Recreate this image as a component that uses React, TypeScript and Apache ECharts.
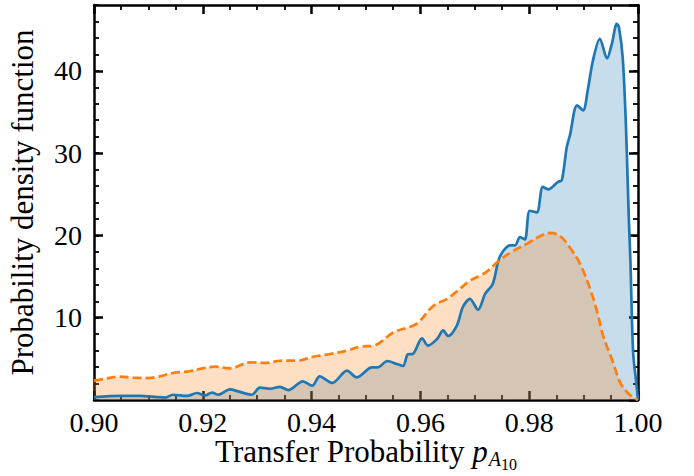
import React, { useEffect, useRef } from "react";
import * as echarts from "echarts";

// Transfer probability grid points and PDF values
const blueX = [
  0.9, 0.9048, 0.9085, 0.9116, 0.9131, 0.9145, 0.9171, 0.9189, 0.9204, 0.9217,
  0.9228, 0.925, 0.9265, 0.929, 0.9305, 0.9324, 0.9342, 0.9357, 0.9384, 0.9401,
  0.9415, 0.9438, 0.9465, 0.9483, 0.9511, 0.9522, 0.9539, 0.9557, 0.9568, 0.9577,
  0.9586, 0.9603, 0.9614, 0.9631, 0.9642, 0.9651, 0.9667, 0.9678, 0.9691, 0.9706,
  0.9719, 0.9733, 0.9746, 0.9765, 0.9774, 0.9783, 0.9792, 0.9801, 0.9814, 0.9825,
  0.9835, 0.9853, 0.986, 0.9869, 0.9875, 0.9888, 0.9899, 0.9908, 0.9917, 0.993,
  0.9943, 0.9952, 0.9961, 0.9965, 0.9972, 0.9978, 0.9983, 0.9986, 0.9991, 0.9997, 1.0,
];
const blueY = [
  0.36, 0.5, 0.5, 0.36, 0.3, 0.64, 0.5, 0.85, 0.57, 0.9,
  0.64, 1.29, 1.05, 0.64, 1.5, 1.37, 1.6, 1.2, 2.27, 1.74,
  2.88, 2.07, 3.56, 2.76, 3.97, 3.97, 4.74, 4.37, 4.13, 5.55,
  5.6, 7.5, 6.6, 7.45, 8.45, 7.78, 9.05, 11.3, 12.3, 10.97,
  12.9, 14.1, 17.4, 18.8, 18.8, 19.8, 19.5, 23.0, 22.8, 25.9,
  25.6, 26.5, 26.7, 30.7, 32.2, 35.8, 35.2, 37.8, 41.2, 43.9,
  41.5, 43.3, 45.7, 45.3, 41.5, 33.0, 22.2, 17.0, 5.8, 2.0, 0,
];

const orangeX = [
  0.9, 0.9011, 0.9048, 0.9072, 0.9099, 0.9118, 0.9145, 0.9176, 0.92, 0.9222,
  0.925, 0.9287, 0.9318, 0.9342, 0.9373, 0.9403, 0.9434, 0.9465, 0.9489, 0.9513,
  0.9526, 0.955, 0.9586, 0.9599, 0.9623, 0.9649, 0.9667, 0.9691, 0.971, 0.9722,
  0.9746, 0.977, 0.9796, 0.982, 0.9838, 0.9857, 0.9875, 0.9893, 0.9912, 0.9925,
  0.9936, 0.9954, 0.9967, 0.998, 0.9991, 1.0,
];
const orangeY = [
  2.35, 2.47, 2.83, 2.71, 2.67, 2.83, 3.28, 3.49, 3.85, 4.05,
  3.85, 4.58, 4.5, 4.77, 4.78, 5.26, 5.59, 6.0, 6.48, 6.6,
  7.0, 8.2, 9.03, 9.6, 11.4, 12.3, 13.2, 14.5, 15.1, 15.6,
  17.0, 18.1, 19.0, 19.9, 20.3, 19.9, 18.5, 16.6, 13.5, 10.7,
  7.8, 4.6, 2.15, 0.94, 0.33, 0,
];

const xMin = 0.9;
const xMax = 1.0;
const xInterval = 0.02;
const yMin = 0;
const yMax = 48;
const yMajor = 10;
const yMinor = 2;

const xTitle = "Transfer Probability ";
const yTitle = "Probability density function";

const FONT = "Liberation Serif";
const BLUE = "#1f77b4";
const ORANGE = "#ff7f0e";

export default function App() {
  const ref = useRef<HTMLDivElement>(null);

  useEffect(() => {
    if (!ref.current) return;
    const chart = echarts.init(ref.current, undefined, { renderer: "svg" });

    const black = "#000";
    const majorTick = { show: true, inside: true, length: 9, lineStyle: { color: black, width: 2.5 } };
    const minorTickStyle = { show: true, length: 5, lineStyle: { color: black, width: 1.8 } };
    const line = { show: true, onZero: false, lineStyle: { color: black, width: 2.5 } };

    const blueData = blueX.map((x, i) => [x, blueY[i]]);
    const orangeData = orangeX.map((x, i) => [x, orangeY[i]]);

    const option: any = {
      animation: false,
      backgroundColor: "#fff",
      textStyle: { fontFamily: FONT, color: black },
      grid: { left: 94, right: 56, top: 5, bottom: 76, containLabel: false, outerBoundsMode: "none" },
      xAxis: [
        {
          type: "value",
          position: "bottom",
          min: xMin,
          max: xMax,
          interval: xInterval,
          axisLine: line,
          axisTick: majorTick,
          minorTick: { ...minorTickStyle, splitNumber: 4 },
          splitLine: { show: false },
          minorSplitLine: { show: false },
          axisLabel: {
            color: black,
            fontFamily: FONT,
            fontSize: 28,
            margin: 8,
            formatter: (v: number) => v.toFixed(2),
          },
          name: `{a|${xTitle}}{p|p}{s|A}{n|10}`,
          nameLocation: "middle",
          nameGap: 36,
          nameMoveOverlap: false,
          nameTextStyle: {
            fontFamily: FONT,
            rich: {
              a: { fontFamily: FONT, fontSize: 31, verticalAlign: "top", color: black },
              p: { fontFamily: FONT, fontSize: 31, fontStyle: "italic", verticalAlign: "top", color: black },
              s: { fontFamily: FONT, fontSize: 20, fontStyle: "italic", verticalAlign: "top", padding: [13, 0, 0, 1], color: black },
              n: { fontFamily: FONT, fontSize: 16, verticalAlign: "top", padding: [20, 0, 0, 0], color: black },
            },
          },
        },
        {
          type: "value",
          position: "top",
          min: xMin,
          max: xMax,
          interval: xInterval,
          axisLine: line,
          axisTick: majorTick,
          minorTick: { ...minorTickStyle, splitNumber: 4 },
          splitLine: { show: false },
          axisLabel: { show: false },
        },
      ],
      yAxis: [
        {
          type: "value",
          position: "left",
          min: yMin,
          max: yMax,
          interval: yMajor,
          axisLine: line,
          axisTick: majorTick,
          splitLine: { show: false },
          axisLabel: {
            color: black,
            fontFamily: FONT,
            fontSize: 28,
            margin: 12,
            showMinLabel: false,
            showMaxLabel: false,
            formatter: (v: number) => (v === 0 || v === yMax ? "" : String(v)),
          },
          name: `{t|${yTitle}}`,
          nameLocation: "middle",
          nameRotate: 90,
          nameGap: 56,
          nameMoveOverlap: false,
          nameTextStyle: {
            fontFamily: FONT,
            fontSize: 31,
            color: black,
            rich: { t: { fontFamily: FONT, fontSize: 31, color: black } },
          },
        },
        {
          type: "value",
          position: "left",
          min: yMin,
          max: yMax,
          interval: yMinor,
          axisLine: { show: false },
          axisTick: { ...minorTickStyle, inside: true },
          splitLine: { show: false },
          axisLabel: { show: false },
        },
        {
          type: "value",
          position: "right",
          min: yMin,
          max: yMax,
          interval: yMajor,
          axisLine: line,
          axisTick: majorTick,
          splitLine: { show: false },
          axisLabel: { show: false },
        },
        {
          type: "value",
          position: "right",
          min: yMin,
          max: yMax,
          interval: yMinor,
          axisLine: { show: false },
          axisTick: { ...minorTickStyle, inside: true },
          splitLine: { show: false },
          axisLabel: { show: false },
        },
      ],
      series: [
        {
          name: "blue-fill",
          type: "line",
          data: blueData,
          showSymbol: false,
          smooth: 0.3,
          lineStyle: { width: 0, color: BLUE },
          itemStyle: { color: BLUE },
          areaStyle: { color: BLUE, opacity: 0.25 },
          z: 2,
        },
        {
          name: "orange-fill",
          type: "line",
          data: orangeData,
          showSymbol: false,
          smooth: 0.4,
          lineStyle: { width: 0, color: ORANGE },
          itemStyle: { color: ORANGE },
          areaStyle: { color: ORANGE, opacity: 0.25 },
          z: 3,
        },
        {
          name: "blue-line",
          type: "line",
          data: blueData,
          showSymbol: false,
          smooth: 0.3,
          lineStyle: { color: BLUE, width: 2.7 },
          itemStyle: { color: BLUE },
          z: 4,
        },
        {
          name: "orange-line",
          type: "line",
          data: orangeData,
          showSymbol: false,
          smooth: 0.4,
          lineStyle: { color: ORANGE, width: 2.7, type: [9, 4] },
          itemStyle: { color: ORANGE },
          z: 5,
        },
      ],
    };

    chart.setOption(option);
    return () => chart.dispose();
  }, []);

  return (
    <div
      ref={ref}
      style={{ position: "fixed", left: 0, top: 0, width: 694, height: 476, background: "#fff" }}
    />
  );
}
